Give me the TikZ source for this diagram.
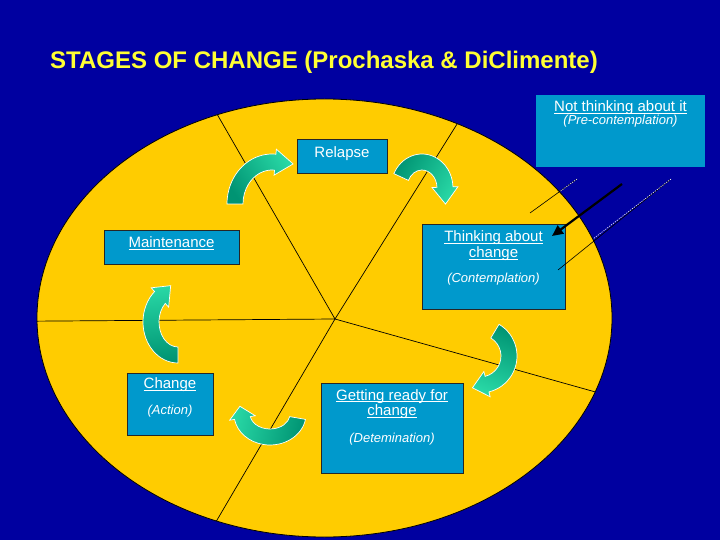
\documentclass[tikz,border=0pt]{standalone}
\usepackage{fontspec}
\setmainfont{Liberation Sans}
\usetikzlibrary{arrows.meta}
\definecolor{bgblue}{RGB}{0,0,160}
\definecolor{disk}{RGB}{255,204,0}
\definecolor{boxc}{RGB}{0,153,204}
\definecolor{titc}{RGB}{255,255,51}
\definecolor{ardark}{RGB}{0,148,115}
\definecolor{arlight}{RGB}{40,215,165}
\newcommand\myul[1]{\setbox0=\hbox{#1}\rlap{\copy0}\rule[-2.4pt]{\wd0}{1pt}}
\def\aw{8}\def\ah{13}
% #1 name, #2 cx, #3 cy, #4 rx, #5 ry, #6 start angle, #7 end angle, #8 shading angle, #9 head length
\newcommand\carrow[9]{%
  \coordinate (#1) at (#2,#3);
  \pgfmathsetmacro\crvTx{-#4*sin(#7)}%
  \pgfmathsetmacro\crvTy{#5*cos(#7)}%
  \pgfmathsetmacro\crvTn{sqrt(\crvTx*\crvTx+\crvTy*\crvTy)}%
  \pgfmathsetmacro\crvPx{#2+#4*cos(#7)+#9*\crvTx/\crvTn}%
  \pgfmathsetmacro\crvPy{#3+#5*sin(#7)+#9*\crvTy/\crvTn}%
  \pgfmathsetmacro\crvOx{#4+\aw}\pgfmathsetmacro\crvOy{#5+\aw}%
  \pgfmathsetmacro\crvIx{#4-\aw}\pgfmathsetmacro\crvIy{#5-\aw}%
  \pgfmathsetmacro\crvHx{#4+\ah}\pgfmathsetmacro\crvHy{#5+\ah}%
  \pgfmathsetmacro\crvLx{#4-\ah}\pgfmathsetmacro\crvLy{#5-\ah}%
  \shadedraw[curv, shading angle=#8]
    ({#2+\crvOx*cos(#6)},{#3+\crvOy*sin(#6)})
    arc[start angle=#6, end angle=#7, x radius=\crvOx, y radius=\crvOy]
    -- ({#2+\crvHx*cos(#7)},{#3+\crvHy*sin(#7)})
    -- (\crvPx,\crvPy)
    -- ({#2+\crvLx*cos(#7)},{#3+\crvLy*sin(#7)})
    -- ({#2+\crvIx*cos(#7)},{#3+\crvIy*sin(#7)})
    arc[start angle=#7, end angle=#6, x radius=\crvIx, y radius=\crvIy]
    -- cycle;}
\begin{document}
\begin{tikzpicture}[x=1pt,y=-1pt,
  stagebox/.style={draw=black!85, line width=0.8pt, fill=boxc, inner sep=0pt, anchor=north west},
  headtxt/.style={text=white, font=\fontsize{15}{15}\selectfont, anchor=base, inner sep=0pt},
  subtxt/.style={text=white, font=\fontsize{13}{13}\selectfont\itshape, anchor=base, inner sep=0pt},
  spoke/.style={black, line width=0.7pt},
  guide/.style={black, line width=0.6pt},
  guidedots/.style={white, line width=0.6pt, dash pattern=on 1.2pt off 1.2pt},
  curv/.style={draw=white, line width=0.7pt, left color=ardark, right color=arlight}]
\useasboundingbox (0,0) rectangle (720,540);
\fill[bgblue] (0,0) rectangle (720,540);

\node[anchor=base west, text=titc, font=\fontsize{24}{25}\selectfont\bfseries, inner sep=0pt]
  (title) at (50,68.5) {STAGES OF CHANGE (Prochaska \& DiClimente)};

% disk
\fill[disk] (324.5,318) ellipse [x radius=287.5, y radius=219];
\coordinate (hub) at (335,319);
\coordinate (sL) at (-10,321.5);
\coordinate (sUL) at (183,55);
\coordinate (sUR) at (494,65);
\coordinate (sLR) at (674,414);
\coordinate (sLL) at (183,578);
\begin{scope}
  \clip (324.5,318) ellipse [x radius=287.5, y radius=219];
  \draw[spoke] (hub) -- (sL);
  \draw[spoke] (hub) -- (sUL);
  \draw[spoke] (hub) -- (sUR);
  \draw[spoke] (hub) -- (sLR);
  \draw[spoke] (hub) -- (sLL);
\end{scope}
\draw[black, line width=0.8pt] (324.5,318) ellipse [x radius=287.5, y radius=219];

% boxes
\node[stagebox, draw=none, minimum width=169pt, minimum height=72pt] (pre) at (536,95) {};
\node[stagebox, minimum width=90pt, minimum height=34pt] (relapse) at (297,139) {};
\node[stagebox, minimum width=135pt, minimum height=34pt] (maint) at (104,230) {};
\node[stagebox, minimum width=143pt, minimum height=85pt] (think) at (422,224) {};
\node[stagebox, minimum width=86pt, minimum height=62pt] (action) at (127,373) {};
\node[stagebox, minimum width=142pt, minimum height=90pt] (ready) at (321,383) {};

% curved arrows
\carrow{ca1}{272}{204}{37}{42}{180}{275}{124.6}{18}
\carrow{ca2}{422}{188}{23}{26}{205}{358}{60}{17}
\carrow{ca3}{480}{356}{29}{29}{-59}{76}{338}{15}
\carrow{ca4}{178}{322}{27}{33}{90}{228}{186}{16}
\carrow{ca5}{270}{414}{28}{23}{10}{170}{258}{12}

% dotted guide lines
\coordinate (g1a) at (577,179);
\coordinate (g1c) at (560,191.5);
\coordinate (g1b) at (530,213);
\coordinate (g2a) at (671,179);
\coordinate (g2c) at (593,239);
\coordinate (g2b) at (558,270);
\draw[guide] (g1a) -- (g1b);
\draw[guide] (g2a) -- (g2b);
\draw[guidedots] (g1a) -- (g1c);
\draw[guidedots] (g2a) -- (g2c);

% black arrow
\coordinate (ba) at (622,184);
\coordinate (bb) at (552,236);
\draw[black, line width=2.2pt, -{Triangle[length=11pt,width=10pt]}] (ba) -- (bb);

% texts
\node[headtxt] (preh) at (620.5,111.7) {\myul{Not thinking about it}};
\node[subtxt] (pres) at (620.5,124.5) {(Pre-contemplation)};
\node[headtxt] (relh) at (342,157.3) {Relapse};
\node[headtxt] (mainh) at (171.5,247.3) {\myul{Maintenance}};
\node[headtxt] (thh1) at (493.5,241.7) {\myul{Thinking about}};
\node[headtxt] (thh2) at (493.5,257.3) {\myul{change}};
\node[subtxt] (ths) at (493.5,282.7) {(Contemplation)};
\node[headtxt] (ach) at (170,388.3) {\myul{Change}};
\node[subtxt] (acs) at (170,414.3) {(Action)};
\node[headtxt] (rdh1) at (392,400) {\myul{Getting ready for}};
\node[headtxt] (rdh2) at (392,415.7) {\myul{change}};
\node[subtxt] (rds) at (392,442.7) {(Detemination)};
\end{tikzpicture}
\end{document}
